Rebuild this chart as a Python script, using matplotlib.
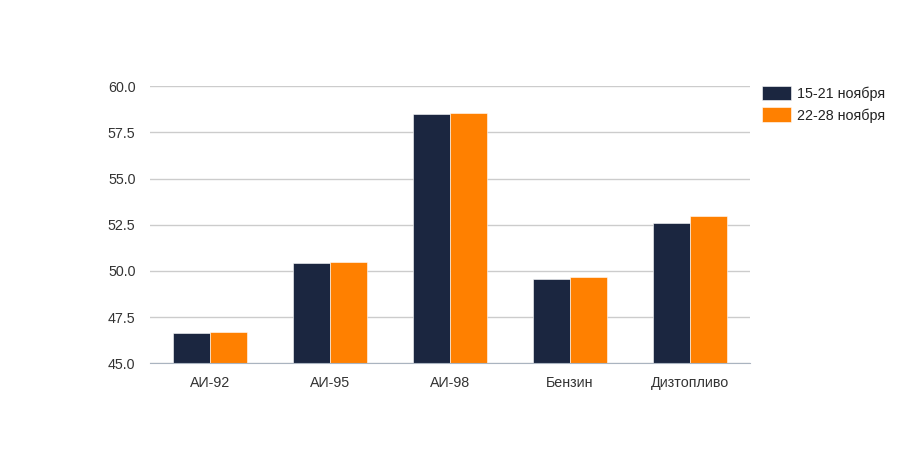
import matplotlib.pyplot as plt
import numpy as np

plt.rcParams['font.family'] = ['Liberation Sans', 'DejaVu Sans']

categories = ['АИ-92', 'АИ-95', 'АИ-98', 'Бензин', 'Дизтопливо']
week1 = [46.62, 50.41, 58.51, 49.55, 52.58]
week2 = [46.70, 50.49, 58.55, 49.67, 52.97]
labels = ['15-21 ноября', '22-28 ноября']
yticks = [45.0, 47.5, 50.0, 52.5, 55.0, 57.5, 60.0]

fig = plt.figure(figsize=(9, 4.5), dpi=100)
ax = fig.add_axes([0.1667, 0.1927, 0.6667, 0.6155])

x = np.arange(len(categories))
w = 0.305
ax.bar(x - w / 2, week1, w, color='#1b2640', edgecolor='white',
       linewidth=0.4, label=labels[0], zorder=3)
ax.bar(x + w / 2, week2, w, color='#ff8000', edgecolor='white',
       linewidth=0.4, label=labels[1], zorder=3)

ax.set_ylim(45, 60)
ax.set_xlim(-0.5, len(categories) - 0.5)
ax.set_yticks(yticks)
ax.set_yticklabels([f'{v:.1f}' for v in yticks])
ax.set_xticks(x)
ax.set_xticklabels(categories)
ax.tick_params(axis='both', length=0, labelsize=10.3, colors='#333333')
ax.tick_params(axis='y', pad=10.5)
ax.tick_params(axis='x', pad=9)
ax.grid(axis='y', color='#cccccc', linewidth=1, zorder=0)
for s in ['top', 'right', 'left']:
    ax.spines[s].set_visible(False)
ax.spines['bottom'].set_color('#aab4c0')
ax.spines['bottom'].set_zorder(4)

leg = fig.legend(loc='upper left', bbox_to_anchor=(0.840, 0.822), frameon=False,
                 fontsize=10.3, handlelength=2.05, handleheight=1.2,
                 labelspacing=0.45, handletextpad=0.45, borderaxespad=0)
for t in leg.get_texts():
    t.set_color('#222222')

fig.savefig('out.png', dpi=100)
